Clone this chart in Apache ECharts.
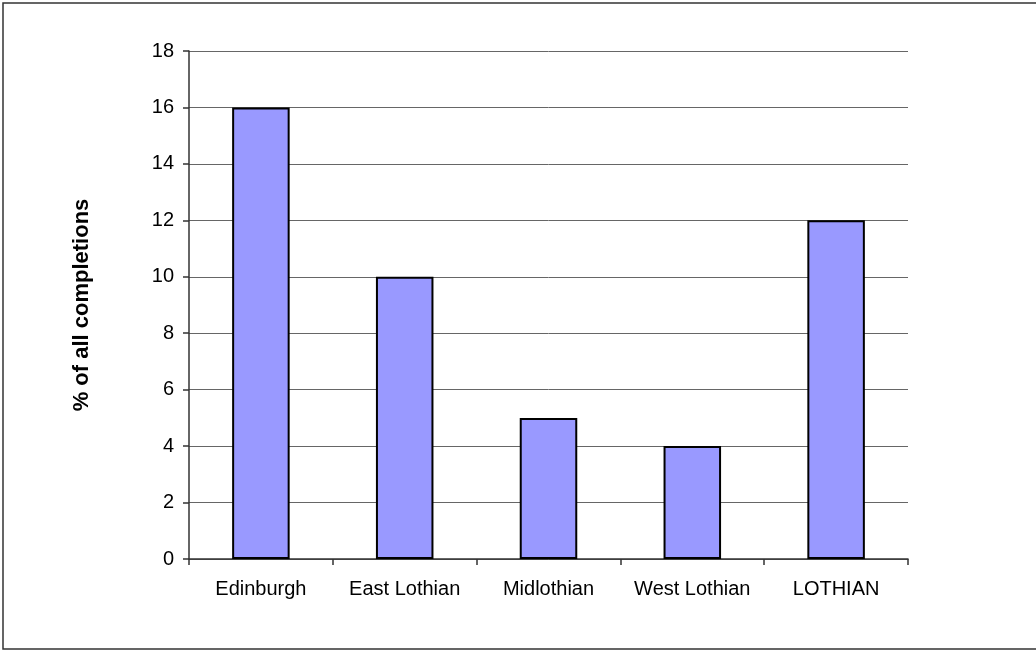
<!DOCTYPE html>
<html>
<head>
<meta charset="utf-8">
<script src="https://cdn.jsdelivr.net/npm/echarts@6/dist/echarts.min.js"></script>
<style>
  html, body { margin: 0; padding: 0; background: #fff; }
  #chart { width: 1036px; height: 650px; }
</style>
</head>
<body>
<div id="chart"></div>
<script>
// Share of all completions by area
const categories = ['Edinburgh', 'East Lothian', 'Midlothian', 'West Lothian', 'LOTHIAN'];
const completionsPct = [16, 10, 5, 4, 12];
const yTicks = { min: 0, max: 18, interval: 2 };

const FONT = 'Liberation Sans, Arial, sans-serif';
const chart = echarts.init(document.getElementById('chart'), null, { renderer: 'canvas' });

chart.setOption({
  animation: false,
  backgroundColor: '#ffffff',
  graphic: [{
    type: 'rect',
    shape: { x: 3, y: 3, width: 1040, height: 646 },
    style: { fill: 'none', stroke: '#333333', lineWidth: 1.5 },
    silent: true
  }],
  grid: { left: 189, right: 128, top: 51, bottom: 91 },
  xAxis: {
    type: 'category',
    data: categories,
    axisLine: { lineStyle: { color: '#333333', width: 1.5 } },
    axisTick: { show: true, alignWithLabel: false, interval: 0, length: 6, lineStyle: { color: '#333333', width: 1.5 } },
    axisLabel: { color: '#000', fontFamily: FONT, fontSize: 20, margin: 20, interval: 0, hideOverlap: false }
  },
  yAxis: {
    type: 'value',
    min: yTicks.min,
    max: yTicks.max,
    interval: yTicks.interval,
    name: '% of all completions',
    nameLocation: 'middle',
    nameGap: 96,
    nameRotate: 90,
    nameTextStyle: { color: '#000', fontFamily: FONT, fontSize: 22, fontWeight: 'bold' },
    axisLine: { show: true, lineStyle: { color: '#333333', width: 1.5 } },
    axisTick: { show: true, inside: false, length: 6, lineStyle: { color: '#333333', width: 1.5 } },
    axisLabel: { color: '#000', fontFamily: FONT, fontSize: 20, margin: 15 },
    splitLine: { show: true, lineStyle: { color: '#666666', width: 1 } }
  },
  series: [{
    type: 'bar',
    data: completionsPct,
    barWidth: '40%',
    itemStyle: { color: '#9999FF', borderColor: '#000000', borderWidth: 2 },
    silent: true
  }]
});
</script>
</body>
</html>
